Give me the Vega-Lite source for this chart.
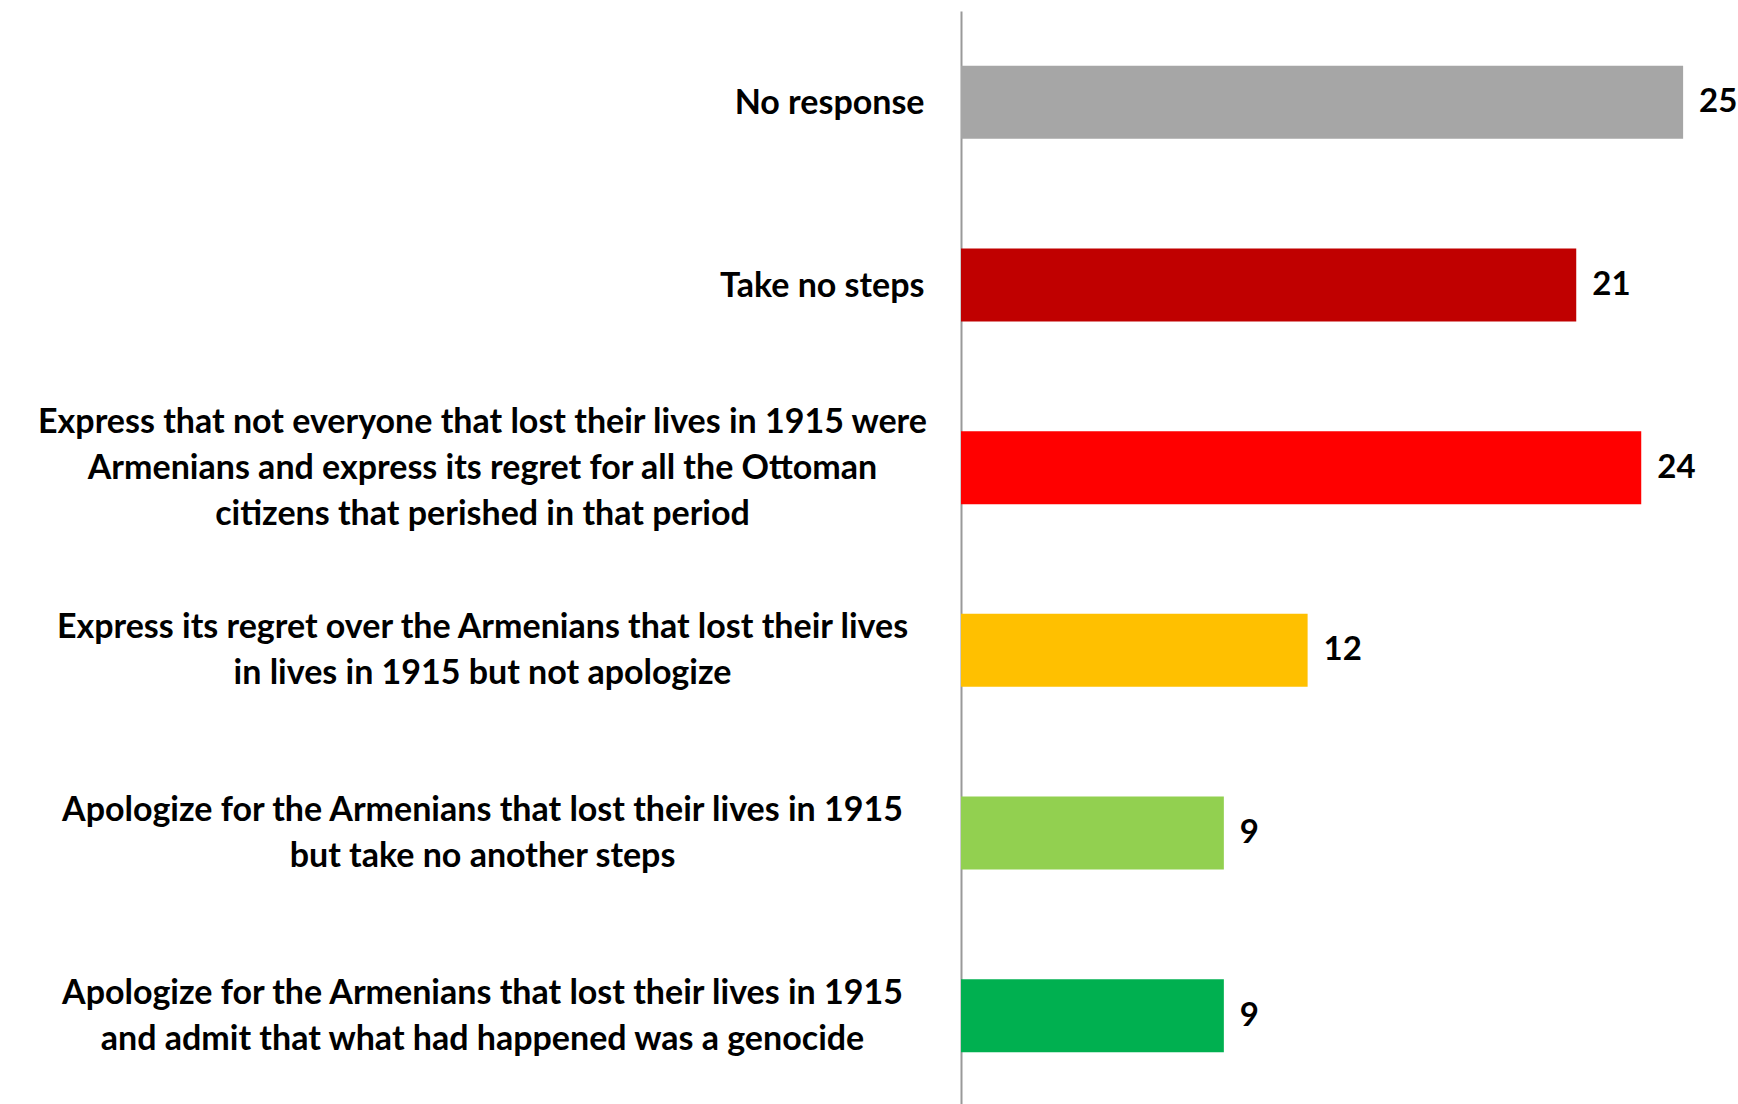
{
  "$schema": "https://vega.github.io/schema/vega-lite/v6.json",
  "width": 777,
  "height": 1096,
  "autosize": {"type": "none"},
  "padding": {"left": 961, "top": 11, "right": 0, "bottom": 0},
  "background": "white",
  "config": {"view": {"stroke": null}, "font": "Lato"},
  "data": {
    "values": [
      {"label": "No response", "value": 25, "color": "#A6A6A6"},
      {"label": "Take no steps", "value": 21.3, "color": "#C00000"},
      {"label": "Express that not everyone that lost their lives in 1915 were\nArmenians and express its regret for all the Ottoman\ncitizens that perished in that period", "value": 23.55, "color": "#FF0000"},
      {"label": "Express its regret over the Armenians that  lost their lives\nin lives in 1915 but not apologize", "value": 12, "color": "#FFC000"},
      {"label": "Apologize for the Armenians that lost their lives in 1915\nbut take no another steps", "value": 9.1, "color": "#92D050"},
      {"label": "Apologize for the Armenians that lost their lives in 1915\nand admit that what had happened was a  genocide", "value": 9.1, "color": "#00B050"}
    ]
  },
  "encoding": {
    "y": {
      "field": "label",
      "type": "nominal",
      "sort": null,
      "scale": {"paddingInner": 0.6, "paddingOuter": 0.3}
    },
    "x": {
      "field": "value",
      "type": "quantitative",
      "scale": {"domain": [0, 26.9]},
      "axis": null
    }
  },
  "layer": [
    {
      "mark": {"type": "bar"},
      "encoding": {
        "color": {"field": "color", "type": "nominal", "scale": null},
        "y": {
          "field": "label",
          "type": "nominal",
          "sort": null,
          "scale": {"paddingInner": 0.6, "paddingOuter": 0.3},
          "axis": {
            "orient": "left",
            "title": null,
            "ticks": false,
            "domain": true,
            "domainColor": "#999999",
            "domainWidth": 2,
            "labelPadding": 37,
            "labelAlign": "right",
            "labelBaseline": "middle",
            "labelFont": "Lato",
            "labelFontSize": 34,
            "labelFontWeight": "bold",
            "labelColor": "#000000",
            "labelLimit": 2000,
            "labelOffset": 2,
            "labelExpr": "indexof(datum.label, '\\n') < 0 ? datum.label : ''"
          }
        }
      }
    },
    {
      "mark": {"type": "text", "align": "left", "baseline": "middle", "dx": 16, "fontSize": 33, "fontWeight": "bold", "font": "Lato", "color": "#000000"},
      "encoding": {
        "text": {"field": "value", "type": "quantitative", "format": ".0f"},
        "y": {
          "field": "label",
          "type": "nominal",
          "sort": null,
          "scale": {"paddingInner": 0.6, "paddingOuter": 0.3},
          "axis": {
            "orient": "left",
            "title": null,
            "ticks": false,
            "domain": false,
            "labelPadding": 479,
            "labelAlign": "center",
            "labelBaseline": "middle",
            "labelFont": "Lato",
            "labelFontSize": 34,
            "labelFontWeight": "bold",
            "labelColor": "#000000",
            "labelLimit": 2000,
            "labelLineHeight": 46,
            "labelOffset": {"condition": {"test": "length(split(datum.label, '\\n')) > 2", "value": -45}, "value": -22},
            "labelExpr": "indexof(datum.label, '\\n') < 0 ? '' : split(datum.label, '\\n')"
          }
        }
      }
    }
  ],
  "resolve": {"axis": {"y": "independent"}}
}
